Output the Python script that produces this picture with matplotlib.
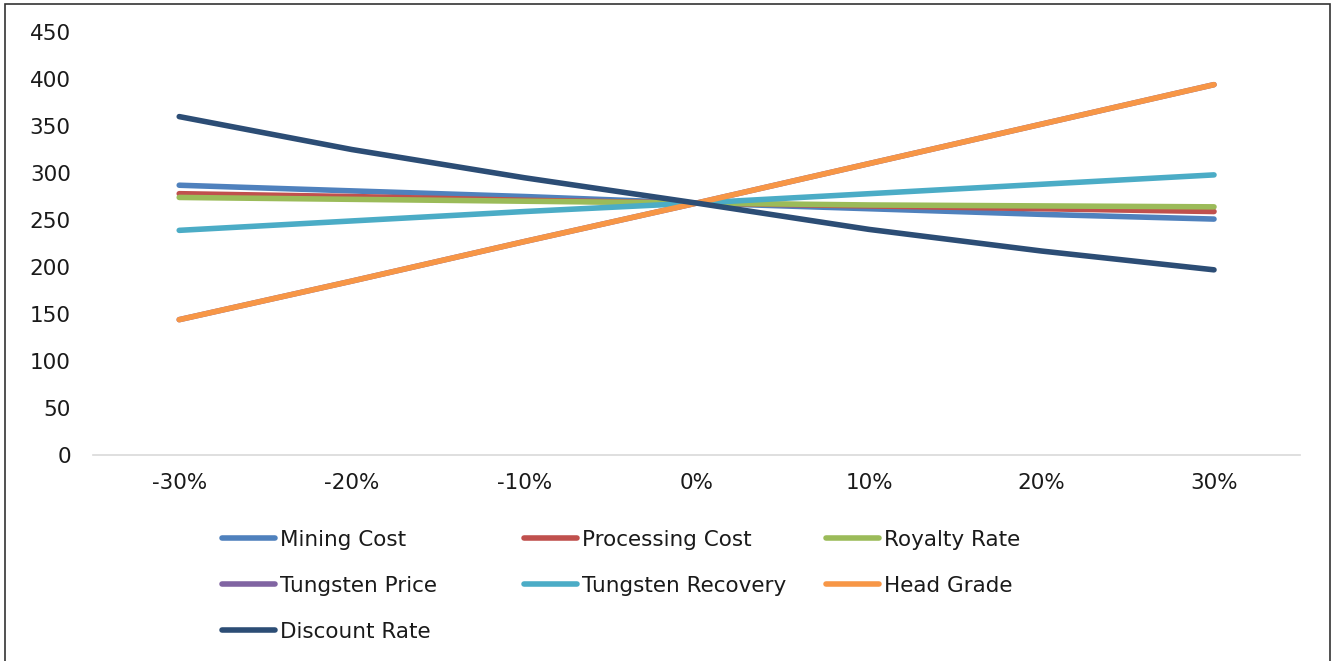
import matplotlib.pyplot as plt
from matplotlib.lines import Line2D
from matplotlib.patches import Rectangle

# Sensitivity of NPV to each input, -30% .. +30%
changes = ["-30%", "-20%", "-10%", "0%", "10%", "20%", "30%"]

mining_cost = [287, 281, 275, 268, 262, 256, 251]
processing_cost = [278, 275, 271, 268, 265, 262, 259]
royalty_rate = [274, 272, 270, 268, 266, 265, 264]
tungsten_price = [144, 185, 227, 268, 310, 352, 394]
tungsten_recovery = [239, 249, 259, 268, 278, 288, 298]
head_grade = [144, 185, 227, 268, 310, 352, 394]
discount_rate = [360, 325, 295, 268, 240, 217, 197]

series = [
    ("Mining Cost", mining_cost, "#4F81BD"),
    ("Processing Cost", processing_cost, "#C0504D"),
    ("Royalty Rate", royalty_rate, "#9BBB59"),
    ("Tungsten Price", tungsten_price, "#8064A2"),
    ("Tungsten Recovery", tungsten_recovery, "#4BACC6"),
    ("Head Grade", head_grade, "#F79646"),
    ("Discount Rate", discount_rate, "#2C4D75"),
]

plt.rcParams['font.family'] = ['DejaVu Sans']

fig = plt.figure(figsize=(13.34, 6.61), dpi=100)
ax = fig.add_axes([0.0697, 0.3116, 0.905, 0.64])

x = range(len(changes))
handles = {}
for name, vals, col in series:
    line, = ax.plot(x, vals, color=col, lw=4, solid_capstyle='round', label=name)
    handles[name] = line

ax.set_xlim(-0.5, len(changes) - 0.5)
ax.set_ylim(0, 450)
ax.set_yticks(range(0, 451, 50))
ax.set_xticks(list(x))
ax.set_xticklabels(changes)
ax.tick_params(axis='both', length=0, labelsize=15.5, colors='#1a1a1a')
ax.tick_params(axis='y', pad=16)
ax.tick_params(axis='x', pad=13)

for side in ['top', 'right', 'left']:
    ax.spines[side].set_visible(False)
ax.spines['bottom'].set_color('#D9D9D9')
ax.spines['bottom'].set_linewidth(1.2)

# legend laid out row by row in three columns
columns = [
    (222, ["Mining Cost", "Tungsten Price", "Discount Rate"]),
    (524, ["Processing Cost", "Tungsten Recovery"]),
    (826, ["Royalty Rate", "Head Grade"]),
]
for xpix, names in columns:
    hs = [Line2D([], [], color=handles[n].get_color(), lw=4,
                 solid_capstyle='round') for n in names]
    leg = fig.legend(hs, names, loc='upper left',
                     bbox_to_anchor=(xpix / 1334, 1 - 530 / 661),
                     frameon=False, fontsize=15.5, borderpad=0, borderaxespad=0,
                     handlelength=2.45, handletextpad=0.25, labelspacing=1.2)
    for t in leg.get_texts():
        t.set_color('#1a1a1a')

# outer frame
fig.add_artist(Rectangle((5 / 1334, -0.05), 1325 / 1334, 1.05 - 4 / 661,
                         transform=fig.transFigure, fill=False,
                         edgecolor='#333333', lw=1.2))

fig.savefig("out.png", dpi=100)
